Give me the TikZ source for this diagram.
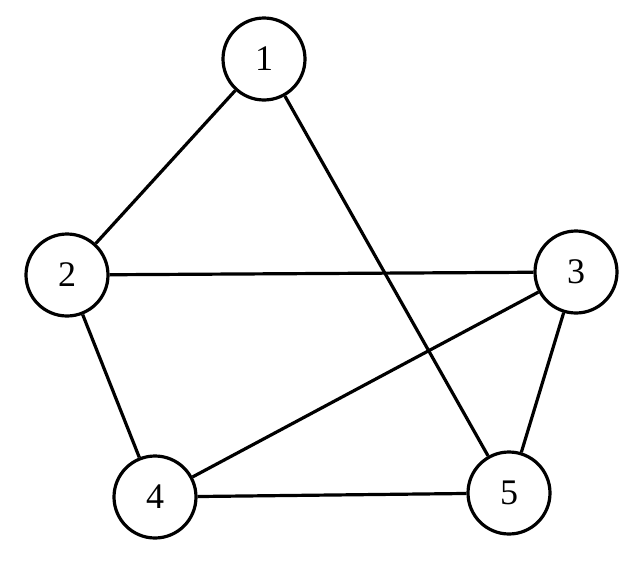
\documentclass[tikz,border=0pt]{standalone}
\usepackage{fontspec}
\setmainfont{Liberation Serif}
\begin{document}
\begin{tikzpicture}[x=1pt,y=-1pt,
  vert/.style={circle,draw,line width=3.2pt,minimum size=82pt,inner sep=0pt,font=\fontsize{36}{38}\selectfont},
  edge/.style={line width=3.2pt}]
\useasboundingbox (0,0) rectangle (640,560);
\node[vert] (n1) at (264,59) {1};
\node[vert] (n2) at (67,275) {2};
\node[vert] (n3) at (576,272) {3};
\node[vert] (n4) at (155,497) {4};
\node[vert] (n5) at (509,493) {5};
\draw[edge] (n1) -- (n2);
\draw[edge] (n1) -- (n5);
\draw[edge] (n2) -- (n3);
\draw[edge] (n2) -- (n4);
\draw[edge] (n3) -- (n4);
\draw[edge] (n3) -- (n5);
\draw[edge] (n4) -- (n5);
\end{tikzpicture}
\end{document}
